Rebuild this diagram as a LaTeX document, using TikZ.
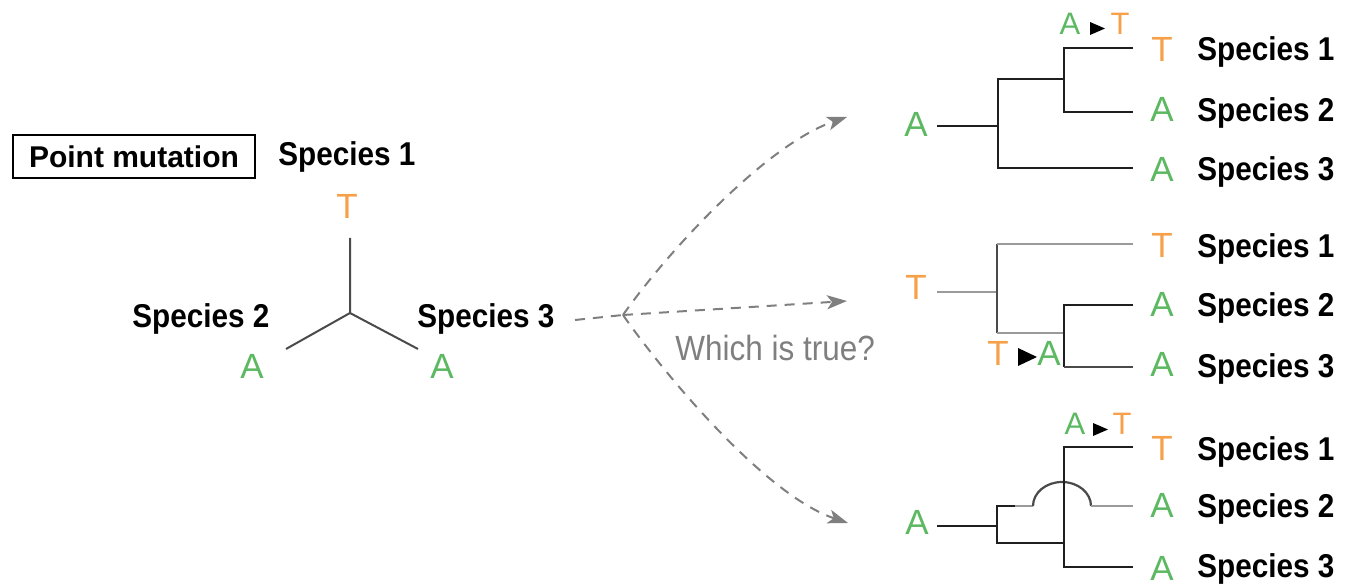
\documentclass[tikz,border=0pt]{standalone}
\usepackage{fontspec}
\setmainfont{Liberation Sans}
\newfontfamily\condf[FakeStretch=0.9]{Liberation Sans}
\usetikzlibrary{arrows.meta}
\definecolor{orT}{HTML}{F6A049}
\definecolor{grA}{HTML}{5DB862}
\definecolor{dsh}{HTML}{7F7F7F}
\definecolor{lgr}{HTML}{9A9A9A}
\definecolor{dgr}{HTML}{4A4A4A}
\begin{document}
\begin{tikzpicture}[x=0.5pt,y=-0.5pt,
  sp/.style={font=\condf\bfseries\fontsize{16.5}{19}\selectfont, inner sep=0pt, anchor=base west},
  nuc/.style={font=\fontsize{17.5}{20}\selectfont, inner sep=0pt, anchor=base},
  nucT/.style={nuc, text=orT},
  nucA/.style={nuc, text=grA},
  smallnuc/.style={font=\fontsize{15.5}{18}\selectfont},
  blk/.style={line width=1.1pt, draw=black!88},
  lgline/.style={line width=1.1pt, draw=lgr},
  dgline/.style={line width=1.1pt, draw=dgr},
  tripod/.style={line width=1pt, draw=dgr},
  dsharr/.style={draw=dsh, line width=1pt, dash pattern=on 5pt off 4pt, -{Stealth[length=10pt,width=7pt,inset=2.5pt]}},
  dshline/.style={draw=dsh, line width=1pt, dash pattern=on 5pt off 4pt},
  tri/.style={fill=black}
]
\useasboundingbox (0,0) rectangle (1346,587);

% ---------- left: unrooted tree ----------
\node[draw=black, line width=0.8pt, minimum width=121pt, minimum height=21.5pt, inner sep=0pt,
      font=\bfseries\fontsize{15}{18}\selectfont] (pm) at (134,156.5) {Point mutation};
\node[sp] (ls1) at (278,166) {Species 1};
\node[nucT] (lt) at (347,219) {T};
\node[sp] (ls2) at (132,328) {Species 2};
\node[sp] (ls3) at (417,328) {Species 3};
\node[nucA] (la2) at (252,379) {A};
\node[nucA] (la3) at (442,379) {A};
\coordinate (c0) at (350,313);
\coordinate (ct) at (350,238);
\coordinate (cl) at (286,349);
\coordinate (cr) at (418,349);
\draw[tripod] (ct) -- (c0) -- (cl);
\draw[tripod] (c0) -- (cr);

% ---------- dashed arrows ----------
\coordinate (d0) at (575,320);
\coordinate (jn) at (623,315);
\coordinate (e1) at (847,117);
\coordinate (e2) at (847,301);
\coordinate (e3) at (848,523);
\draw[dshline] (d0) -- (jn);
\draw[dsharr] (jn) .. controls (665,255) and (765,145) .. (e1);
\draw[dsharr] (jn) -- (e2);
\draw[dsharr] (jn) .. controls (665,375) and (765,495) .. (e3);
\node[font=\condf\fontsize{17.5}{20}\selectfont, text=dsh, anchor=base west, inner sep=0pt] (q) at (675,361) {Which is true?};

% ---------- top tree ----------
\node[nucA] (r1) at (916,137) {A};
\draw[blk] (937,126) -- (998,126);
\draw[blk] (1064,79) -| (998,168) -- (1133,168);
\draw[blk] (1133,48) -| (1064,112) -- (1133,112);
\node[nucA, smallnuc] (m1a) at (1070,35) {A};
\fill[tri] (1090,22) -- (1105,28.5) -- (1090,35) -- cycle;
\node[nucT, smallnuc] (m1t) at (1120,35) {T};
\node[nucT] (t1l1) at (1162,62) {T};
\node[nucA] (t1l2) at (1162,122) {A};
\node[nucA] (t1l3) at (1162,182) {A};
\node[sp] (t1s1) at (1197,61) {Species 1};
\node[sp] (t1s2) at (1197,122) {Species 2};
\node[sp] (t1s3) at (1197,181) {Species 3};

% ---------- middle tree ----------
\node[nucT] (r2) at (916,300) {T};
\draw[lgline] (937,292) -- (997,292);
\draw[dgline] (997,244) -- (997,333);
\draw[lgline] (997,244) -- (1133,244);
\draw[lgline] (997,333) -- (1064,333);
\draw[blk] (1133,305) -| (1064,367);
\draw[dgline] (1064,367) -- (1133,367);
\node[nucT] (m2t) at (998,366) {T};
\fill[tri] (1018,348) -- (1037,357) -- (1018,366) -- cycle;
\node[nucA] (m2a) at (1049,366) {A};
\node[nucT] (t2l1) at (1162,258) {T};
\node[nucA] (t2l2) at (1162,317) {A};
\node[nucA] (t2l3) at (1162,377) {A};
\node[sp] (t2s1) at (1197,258) {Species 1};
\node[sp] (t2s2) at (1197,317) {Species 2};
\node[sp] (t2s3) at (1197,378) {Species 3};

% ---------- bottom tree ----------
\node[nucA] (r3) at (917,535) {A};
\draw[blk] (937,526) -- (997,526);
\draw[blk] (1015,506) -| (997,543) -- (1064,543);
\draw[lgline] (1015,506) -- (1033,506);
\draw[dgline] (1033,506) arc[start angle=180, end angle=360, x radius=29, y radius=24];
\draw[lgline] (1091,506) -- (1133,506);
\draw[blk] (1133,447) -| (1064,567) -- (1133,567);
\node[nucA, smallnuc] (m3a) at (1075,435) {A};
\fill[tri] (1093,423) -- (1108,429.5) -- (1093,436) -- cycle;
\node[nucT, smallnuc] (m3t) at (1122,435) {T};
\node[nucT] (t3l1) at (1162,461) {T};
\node[nucA] (t3l2) at (1162,518) {A};
\node[nucA] (t3l3) at (1162,581) {A};
\node[sp] (t3s1) at (1197,461) {Species 1};
\node[sp] (t3s2) at (1197,518) {Species 2};
\node[sp] (t3s3) at (1197,578) {Species 3};
\end{tikzpicture}
\end{document}
